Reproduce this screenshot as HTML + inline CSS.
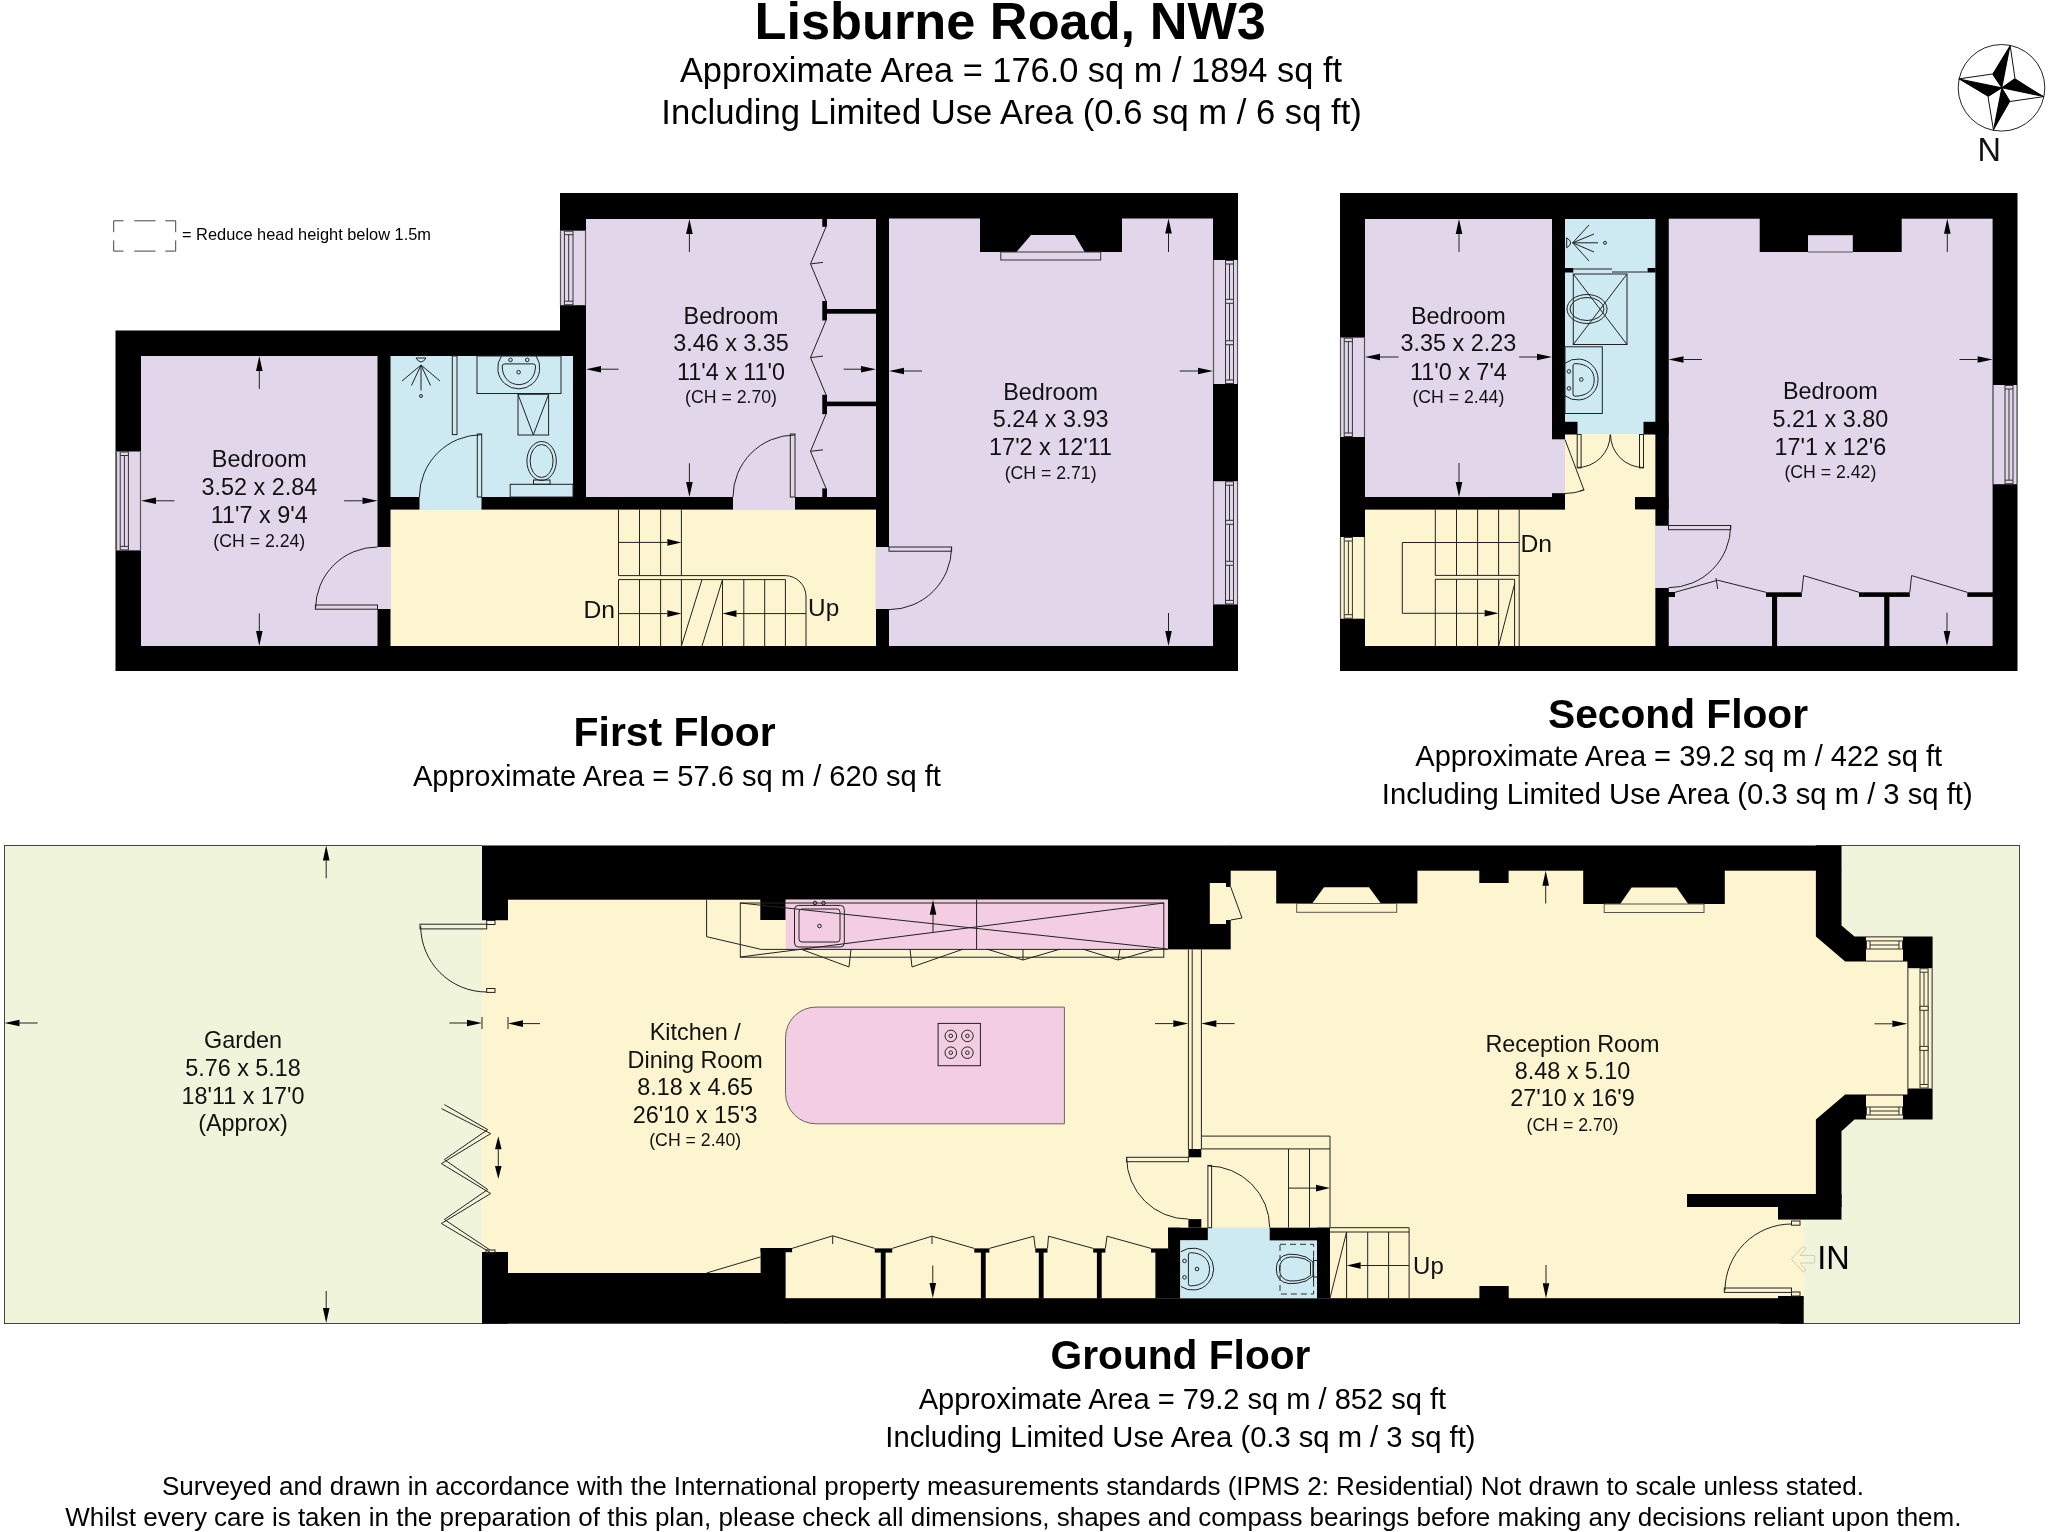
<!DOCTYPE html>
<html><head><meta charset="utf-8"><title>Lisburne Road, NW3</title><style>html,body{margin:0;padding:0;background:#fff;overflow:hidden}svg{display:block;will-change:transform}</style></head><body>
<svg width="2048" height="1532" viewBox="0 0 2048 1532" font-family="&quot;Liberation Sans&quot;, sans-serif">
<rect x="0.0" y="0.0" width="2048.0" height="1532.0" fill="#fff" />
<text x="754.5" y="39.0" font-size="52.3" text-anchor="start" font-weight="bold" fill="#000">Lisburne Road, NW3</text>
<text x="679.9" y="82.0" font-size="34.39" text-anchor="start" font-weight="normal" fill="#000">Approximate Area = 176.0 sq m / 1894 sq ft</text>
<text x="661.3" y="124.2" font-size="34.63" text-anchor="start" font-weight="normal" fill="#000">Including Limited Use Area (0.6 sq m / 6 sq ft)</text>
<circle cx="2001.5" cy="87.8" r="43.3" fill="#fff" stroke="#222" stroke-width="1"/>
<polygon points="2010.1,45.2 1992.5,74.0 2001.8,87.8" fill="#000" stroke="none" stroke-width="1"/>
<polygon points="2010.1,45.2 2015.0,78.5 2001.8,87.8" fill="#fff" stroke="#111" stroke-width="1"/>
<polygon points="2043.9,96.6 2015.0,78.5 2001.8,87.8" fill="#000" stroke="none" stroke-width="1"/>
<polygon points="2043.9,96.6 2010.0,101.5 2001.8,87.8" fill="#fff" stroke="#111" stroke-width="1"/>
<polygon points="1993.5,130.3 2010.0,101.5 2001.8,87.8" fill="#000" stroke="none" stroke-width="1"/>
<polygon points="1993.5,130.3 1988.0,96.6 2001.8,87.8" fill="#fff" stroke="#111" stroke-width="1"/>
<polygon points="1958.7,78.9 1988.0,96.6 2001.8,87.8" fill="#000" stroke="none" stroke-width="1"/>
<polygon points="1958.7,78.9 1992.5,74.0 2001.8,87.8" fill="#fff" stroke="#111" stroke-width="1"/>
<polygon points="2010.1,45.2 1992.5,74.0 2001.8,87.8" fill="#000" stroke="none" stroke-width="1"/>
<polygon points="2043.9,96.6 2015.0,78.5 2001.8,87.8" fill="#000" stroke="none" stroke-width="1"/>
<polygon points="1993.5,130.3 2010.0,101.5 2001.8,87.8" fill="#000" stroke="none" stroke-width="1"/>
<polygon points="1958.7,78.9 1988.0,96.6 2001.8,87.8" fill="#000" stroke="none" stroke-width="1"/>
<text x="1977.6" y="160.7" font-size="32.47" text-anchor="start" font-weight="normal" fill="#111">N</text>
<path d="M113.7,232.2 V220.8 H123.5 M134.3,220.8 H155.5 M165.3,220.8 H175.7 V232.2 M175.7,240.4 V251.1 H165.3 M155.5,251.1 H134.3 M123.5,251.1 H113.7 V240.4" fill="none" stroke="#444" stroke-width="1"/>
<text x="182.0" y="240.4" font-size="17" text-anchor="start" font-weight="normal" fill="#000" textLength="249" lengthAdjust="spacingAndGlyphs">= Reduce head height below 1.5m</text>
<polygon points="115.5,330.5 560.0,330.5 560.0,193.0 1238.0,193.0 1238.0,671.0 115.5,671.0" fill="#000" stroke="none" stroke-width="1"/>
<rect x="141.0" y="356.0" width="236.5" height="290.0" fill="#E2D6EA" />
<rect x="390.5" y="356.0" width="182.5" height="141.0" fill="#CDE9F2" />
<rect x="390.5" y="509.6" width="485.5" height="136.4" fill="#FDF5D0" />
<rect x="586.0" y="219.0" width="290.0" height="278.0" fill="#E2D6EA" />
<rect x="889.0" y="218.5" width="324.0" height="427.5" fill="#E2D6EA" />
<rect x="377.0" y="547.0" width="14.0" height="62.0" fill="#E2D6EA" />
<rect x="419.5" y="496.0" width="62.0" height="14.0" fill="#CDE9F2" />
<rect x="733.0" y="496.0" width="62.0" height="14.0" fill="#E2D6EA" />
<rect x="875.5" y="547.0" width="14.0" height="62.0" fill="#E2D6EA" />
<rect x="116.0" y="451.5" width="25.0" height="98.9" fill="#E2D6EA" />
<line x1="116.5" y1="451.5" x2="116.5" y2="550.4" stroke="#555" stroke-width="1.2"/>
<line x1="140.5" y1="451.5" x2="140.5" y2="550.4" stroke="#555" stroke-width="1.2"/>
<rect x="120.2" y="452.0" width="8.2" height="97.9" fill="none" stroke="#333" stroke-width="1"/>
<line x1="124.4" y1="455.5" x2="124.4" y2="546.4" stroke="#333" stroke-width="1"/>
<line x1="120.2" y1="455.5" x2="128.5" y2="455.5" stroke="#333" stroke-width="1"/>
<line x1="120.2" y1="546.4" x2="128.5" y2="546.4" stroke="#333" stroke-width="1"/>
<rect x="560.0" y="230.7" width="26.0" height="74.5" fill="#E2D6EA" />
<line x1="560.5" y1="230.7" x2="560.5" y2="305.2" stroke="#555" stroke-width="1.2"/>
<line x1="585.5" y1="230.7" x2="585.5" y2="305.2" stroke="#555" stroke-width="1.2"/>
<rect x="564.4" y="231.2" width="8.6" height="73.5" fill="none" stroke="#333" stroke-width="1"/>
<line x1="568.7" y1="234.7" x2="568.7" y2="301.2" stroke="#333" stroke-width="1"/>
<line x1="564.4" y1="234.7" x2="573.0" y2="234.7" stroke="#333" stroke-width="1"/>
<line x1="564.4" y1="301.2" x2="573.0" y2="301.2" stroke="#333" stroke-width="1"/>
<rect x="1213.0" y="260.0" width="25.0" height="124.0" fill="#E2D6EA" />
<line x1="1213.5" y1="260.0" x2="1213.5" y2="384.0" stroke="#555" stroke-width="1.2"/>
<line x1="1237.5" y1="260.0" x2="1237.5" y2="384.0" stroke="#555" stroke-width="1.2"/>
<rect x="1225.5" y="260.5" width="8.0" height="123.0" fill="none" stroke="#333" stroke-width="1"/>
<line x1="1229.5" y1="264.0" x2="1229.5" y2="380.0" stroke="#333" stroke-width="1"/>
<line x1="1225.5" y1="264.0" x2="1233.5" y2="264.0" stroke="#333" stroke-width="1"/>
<line x1="1225.5" y1="380.0" x2="1233.5" y2="380.0" stroke="#333" stroke-width="1"/>
<rect x="1225.5" y="299.3" width="8.0" height="4.0" fill="#E2D6EA" stroke="#333" stroke-width="1"/>
<rect x="1225.5" y="340.7" width="8.0" height="4.0" fill="#E2D6EA" stroke="#333" stroke-width="1"/>
<rect x="1213.0" y="481.2" width="25.0" height="123.2" fill="#E2D6EA" />
<line x1="1213.5" y1="481.2" x2="1213.5" y2="604.4" stroke="#555" stroke-width="1.2"/>
<line x1="1237.5" y1="481.2" x2="1237.5" y2="604.4" stroke="#555" stroke-width="1.2"/>
<rect x="1225.5" y="481.7" width="8.0" height="122.2" fill="none" stroke="#333" stroke-width="1"/>
<line x1="1229.5" y1="485.2" x2="1229.5" y2="600.4" stroke="#333" stroke-width="1"/>
<line x1="1225.5" y1="485.2" x2="1233.5" y2="485.2" stroke="#333" stroke-width="1"/>
<line x1="1225.5" y1="600.4" x2="1233.5" y2="600.4" stroke="#333" stroke-width="1"/>
<rect x="1225.5" y="520.3" width="8.0" height="4.0" fill="#E2D6EA" stroke="#333" stroke-width="1"/>
<rect x="1225.5" y="561.3" width="8.0" height="4.0" fill="#E2D6EA" stroke="#333" stroke-width="1"/>
<rect x="980.0" y="218.0" width="142.0" height="34.0" fill="#000" />
<polygon points="1031.0,235.0 1074.7,235.0 1085.0,252.5 1016.0,252.5" fill="#E2D6EA" stroke="none" stroke-width="1"/>
<rect x="1000.8" y="252.0" width="99.9" height="8.0" fill="none" stroke="#333" stroke-width="1.0"/>
<rect x="822.3" y="218.8" width="4.7" height="8.0" fill="#000" />
<rect x="822.3" y="301.0" width="4.7" height="19.5" fill="#000" />
<rect x="822.3" y="394.8" width="4.7" height="19.4" fill="#000" />
<rect x="822.3" y="488.4" width="4.7" height="8.6" fill="#000" />
<rect x="827.0" y="309.0" width="49.0" height="4.7" fill="#000" />
<rect x="827.0" y="401.6" width="49.0" height="4.6" fill="#000" />
<polyline points="826.0,226.8 810.5,263.9 823.0,262.4" fill="none" stroke="#222" stroke-width="1.0"/>
<polyline points="810.5,263.9 826.0,301.0" fill="none" stroke="#222" stroke-width="1.0"/>
<polyline points="826.0,320.5 810.5,357.6 823.0,356.1" fill="none" stroke="#222" stroke-width="1.0"/>
<polyline points="810.5,357.6 826.0,394.8" fill="none" stroke="#222" stroke-width="1.0"/>
<polyline points="826.0,414.2 810.5,451.3 823.0,449.8" fill="none" stroke="#222" stroke-width="1.0"/>
<polyline points="810.5,451.3 826.0,488.4" fill="none" stroke="#222" stroke-width="1.0"/>
<rect x="452.3" y="356.0" width="4.7" height="78.6" fill="none" stroke="#222" stroke-width="1.0"/>
<rect x="477.3" y="434.0" width="4.4" height="63.0" fill="#CDE9F2" />
<rect x="477.3" y="434.0" width="4.4" height="63.0" fill="none" stroke="#222" stroke-width="1.0"/>
<path d="M419.4,497.0 A62.3,62.3 0 0 1 481.7,434.7" fill="none" stroke="#222" stroke-width="1.0"/>
<rect x="477.0" y="356.0" width="84.0" height="37.5" fill="none" stroke="#222" stroke-width="1.0"/>
<path d="M501.45,356 A21,21 0 1 0 536.05,356" fill="none" stroke="#222" stroke-width="1"/>
<path d="M502.2,366 C502.2,378 510,384.6 518.8,384.6 C527.6,384.6 535.5,378 535.5,366 Q535.5,363.9 533,363.9 L505,363.9 Q502.2,363.9 502.2,366 Z" fill="none" stroke="#222" stroke-width="1"/>
<circle cx="510.5" cy="359.9" r="1.8" fill="none" stroke="#222" stroke-width="1"/>
<circle cx="527.2" cy="359.9" r="1.8" fill="none" stroke="#222" stroke-width="1"/>
<circle cx="518.6" cy="372.2" r="1.8" fill="none" stroke="#222" stroke-width="1"/>
<rect x="518.0" y="394.3" width="30.6" height="40.7" fill="none" stroke="#222" stroke-width="1.0"/>
<polyline points="518.0,394.3 533.3,435.0 548.6,394.3" fill="none" stroke="#222" stroke-width="1.0"/>
<ellipse cx="541.6" cy="461" rx="14.7" ry="19.5" fill="none" stroke="#222" stroke-width="1"/>
<ellipse cx="541.6" cy="461" rx="11.5" ry="16.5" fill="none" stroke="#222" stroke-width="1"/>
<rect x="533.5" y="480.0" width="16.5" height="4.3" fill="none" stroke="#222" stroke-width="1"/>
<rect x="510.2" y="484.3" width="62.8" height="12.7" fill="none" stroke="#222" stroke-width="1.0"/>
<path d="M416,358 Q421,366 426,358 Z" fill="none" stroke="#222" stroke-width="1"/>
<line x1="421.0" y1="365.0" x2="402.0" y2="381.0" stroke="#222" stroke-width="1"/>
<line x1="421.0" y1="365.0" x2="411.5" y2="385.5" stroke="#222" stroke-width="1"/>
<line x1="421.0" y1="365.0" x2="421.0" y2="390.5" stroke="#222" stroke-width="1"/>
<line x1="421.0" y1="365.0" x2="430.5" y2="385.5" stroke="#222" stroke-width="1"/>
<line x1="421.0" y1="365.0" x2="440.0" y2="381.0" stroke="#222" stroke-width="1"/>
<circle cx="421" cy="396" r="1.5" fill="none" stroke="#222" stroke-width="1"/>
<rect x="315.4" y="605.0" width="62.1" height="4.2" fill="none" stroke="#222" stroke-width="1.0"/>
<path d="M315.5,609.0 A62.0,62.0 0 0 1 377.5,547.0" fill="none" stroke="#222" stroke-width="1.0"/>
<rect x="790.3" y="434.0" width="4.7" height="63.0" fill="none" stroke="#222" stroke-width="1.0"/>
<path d="M733.0,497.0 A62.0,62.0 0 0 1 795.0,435.0" fill="none" stroke="#222" stroke-width="1.0"/>
<rect x="889.0" y="547.0" width="62.6" height="4.2" fill="none" stroke="#222" stroke-width="1.0"/>
<path d="M951.6,547.0 A62.6,62.6 0 0 1 889.0,609.6" fill="none" stroke="#222" stroke-width="1.0"/>
<line x1="618.5" y1="509.6" x2="618.5" y2="575.6" stroke="#222" stroke-width="1.0"/>
<line x1="639.5" y1="509.6" x2="639.5" y2="575.6" stroke="#222" stroke-width="1.0"/>
<line x1="660.6" y1="509.6" x2="660.6" y2="575.6" stroke="#222" stroke-width="1.0"/>
<line x1="681.4" y1="509.6" x2="681.4" y2="575.6" stroke="#222" stroke-width="1.0"/>
<path d="M618.5,575.6 L785.4,575.6 A21,21 0 0 1 806,597 L806,646" fill="none" stroke="#222" stroke-width="1.0"/>
<line x1="618.5" y1="579.6" x2="785.4" y2="579.6" stroke="#222" stroke-width="1.0"/>
<line x1="618.5" y1="579.6" x2="618.5" y2="646.0" stroke="#222" stroke-width="1.0"/>
<line x1="639.5" y1="579.6" x2="639.5" y2="646.0" stroke="#222" stroke-width="1.0"/>
<line x1="660.6" y1="579.6" x2="660.6" y2="646.0" stroke="#222" stroke-width="1.0"/>
<line x1="681.4" y1="579.6" x2="681.4" y2="646.0" stroke="#222" stroke-width="1.0"/>
<line x1="722.5" y1="579.6" x2="722.5" y2="646.0" stroke="#222" stroke-width="1.0"/>
<line x1="743.8" y1="579.6" x2="743.8" y2="646.0" stroke="#222" stroke-width="1.0"/>
<line x1="764.7" y1="579.6" x2="764.7" y2="646.0" stroke="#222" stroke-width="1.0"/>
<line x1="785.4" y1="579.6" x2="785.4" y2="646.0" stroke="#222" stroke-width="1.0"/>
<line x1="681.4" y1="646.0" x2="702.0" y2="579.6" stroke="#222" stroke-width="1.0"/>
<line x1="702.0" y1="646.0" x2="722.5" y2="579.6" stroke="#222" stroke-width="1.0"/>
<line x1="618.5" y1="542.4" x2="667.4" y2="542.4" stroke="#222" stroke-width="1.0"/>
<polygon points="681.4,542.4 667.4,545.7 667.4,539.1" fill="#000" stroke="none" stroke-width="1"/>
<line x1="618.5" y1="613.6" x2="667.4" y2="613.6" stroke="#222" stroke-width="1.0"/>
<polygon points="681.4,613.6 667.4,616.9 667.4,610.3" fill="#000" stroke="none" stroke-width="1"/>
<line x1="806.0" y1="613.6" x2="736.5" y2="613.6" stroke="#222" stroke-width="1.0"/>
<polygon points="722.5,613.6 736.5,610.3 736.5,616.9" fill="#000" stroke="none" stroke-width="1"/>
<text x="583.5" y="617.7" font-size="24.72" text-anchor="start" font-weight="normal" fill="#111">Dn</text>
<text x="808.1" y="616.2" font-size="24.31" text-anchor="start" font-weight="normal" fill="#111">Up</text>
<line x1="259.3" y1="388.9" x2="259.3" y2="371.0" stroke="#222" stroke-width="1.0"/>
<polygon points="259.3,356.0 262.6,371.0 256.0,371.0" fill="#000" stroke="none" stroke-width="1"/>
<line x1="259.3" y1="613.4" x2="259.3" y2="631.0" stroke="#222" stroke-width="1.0"/>
<polygon points="259.3,646.0 256.0,631.0 262.6,631.0" fill="#000" stroke="none" stroke-width="1"/>
<line x1="174.4" y1="500.8" x2="156.0" y2="500.8" stroke="#222" stroke-width="1.0"/>
<polygon points="141.0,500.8 156.0,497.5 156.0,504.1" fill="#000" stroke="none" stroke-width="1"/>
<line x1="344.1" y1="500.8" x2="362.5" y2="500.8" stroke="#222" stroke-width="1.0"/>
<polygon points="377.5,500.8 362.5,504.1 362.5,497.5" fill="#000" stroke="none" stroke-width="1"/>
<line x1="689.4" y1="252.0" x2="689.4" y2="234.0" stroke="#222" stroke-width="1.0"/>
<polygon points="689.4,219.0 692.7,234.0 686.1,234.0" fill="#000" stroke="none" stroke-width="1"/>
<line x1="689.4" y1="463.3" x2="689.4" y2="482.0" stroke="#222" stroke-width="1.0"/>
<polygon points="689.4,497.0 686.1,482.0 692.7,482.0" fill="#000" stroke="none" stroke-width="1"/>
<line x1="618.5" y1="369.2" x2="601.0" y2="369.2" stroke="#222" stroke-width="1.0"/>
<polygon points="586.0,369.2 601.0,365.9 601.0,372.5" fill="#000" stroke="none" stroke-width="1"/>
<line x1="843.6" y1="369.2" x2="861.0" y2="369.2" stroke="#222" stroke-width="1.0"/>
<polygon points="876.0,369.2 861.0,372.5 861.0,365.9" fill="#000" stroke="none" stroke-width="1"/>
<line x1="1168.5" y1="252.0" x2="1168.5" y2="233.5" stroke="#222" stroke-width="1.0"/>
<polygon points="1168.5,218.5 1171.8,233.5 1165.2,233.5" fill="#000" stroke="none" stroke-width="1"/>
<line x1="1168.5" y1="613.0" x2="1168.5" y2="631.0" stroke="#222" stroke-width="1.0"/>
<polygon points="1168.5,646.0 1165.2,631.0 1171.8,631.0" fill="#000" stroke="none" stroke-width="1"/>
<line x1="922.0" y1="371.0" x2="904.0" y2="371.0" stroke="#222" stroke-width="1.0"/>
<polygon points="889.0,371.0 904.0,367.7 904.0,374.3" fill="#000" stroke="none" stroke-width="1"/>
<line x1="1179.7" y1="371.0" x2="1198.0" y2="371.0" stroke="#222" stroke-width="1.0"/>
<polygon points="1213.0,371.0 1198.0,374.3 1198.0,367.7" fill="#000" stroke="none" stroke-width="1"/>
<text x="259.3" y="467.2" font-size="23.4" text-anchor="middle" font-weight="normal" fill="#111">Bedroom</text>
<text x="259.3" y="495.0" font-size="23.4" text-anchor="middle" font-weight="normal" fill="#111">3.52 x 2.84</text>
<text x="259.3" y="522.7" font-size="23.4" text-anchor="middle" font-weight="normal" fill="#111">11'7 x 9'4</text>
<text x="259.3" y="547.2" font-size="17.7" text-anchor="middle" font-weight="normal" fill="#111">(CH = 2.24)</text>
<text x="731.0" y="324.4" font-size="23.4" text-anchor="middle" font-weight="normal" fill="#111">Bedroom</text>
<text x="731.0" y="351.3" font-size="23.4" text-anchor="middle" font-weight="normal" fill="#111">3.46 x 3.35</text>
<text x="731.0" y="380.0" font-size="23.4" text-anchor="middle" font-weight="normal" fill="#111">11'4 x 11'0</text>
<text x="731.0" y="402.8" font-size="17.7" text-anchor="middle" font-weight="normal" fill="#111">(CH = 2.70)</text>
<text x="1050.6" y="399.6" font-size="23.4" text-anchor="middle" font-weight="normal" fill="#111">Bedroom</text>
<text x="1050.6" y="426.9" font-size="23.4" text-anchor="middle" font-weight="normal" fill="#111">5.24 x 3.93</text>
<text x="1050.6" y="455.0" font-size="23.4" text-anchor="middle" font-weight="normal" fill="#111">17'2 x 12'11</text>
<text x="1050.6" y="479.0" font-size="17.7" text-anchor="middle" font-weight="normal" fill="#111">(CH = 2.71)</text>
<text x="573.6" y="746.0" font-size="40.88" text-anchor="start" font-weight="bold" fill="#000">First Floor</text>
<text x="412.9" y="785.6" font-size="29.1" text-anchor="start" font-weight="normal" fill="#000">Approximate Area = 57.6 sq m / 620 sq ft</text>
<rect x="1340.0" y="193.0" width="677.5" height="478.0" fill="#000" />
<rect x="1365.0" y="219.0" width="200.0" height="278.0" fill="#E2D6EA" />
<rect x="1565.0" y="219.0" width="90.6" height="215.0" fill="#CDE9F2" />
<rect x="1365.0" y="509.4" width="290.6" height="136.6" fill="#FDF5D0" />
<rect x="1565.0" y="434.0" width="90.6" height="76.0" fill="#FDF5D0" />
<rect x="1668.5" y="218.7" width="324.1" height="427.3" fill="#E2D6EA" />
<rect x="1655.0" y="525.5" width="14.0" height="62.5" fill="#E2D6EA" />
<rect x="1552.0" y="218.0" width="13.0" height="221.3" fill="#000" />
<rect x="1552.0" y="421.8" width="25.5" height="12.7" fill="#000" />
<rect x="1643.5" y="421.8" width="25.0" height="12.7" fill="#000" />
<rect x="1655.6" y="218.0" width="12.9" height="307.5" fill="#000" />
<rect x="1655.6" y="588.0" width="12.9" height="58.5" fill="#000" />
<rect x="1364.0" y="497.0" width="201.0" height="12.4" fill="#000" />
<rect x="1552.0" y="493.2" width="13.0" height="3.8" fill="#000" />
<rect x="1635.0" y="497.0" width="33.5" height="12.4" fill="#000" />
<rect x="1668.0" y="592.0" width="7.0" height="5.0" fill="#000" />
<rect x="1565.0" y="268.0" width="8.3" height="4.5" fill="#000" />
<rect x="1647.6" y="268.0" width="8.0" height="4.5" fill="#000" />
<line x1="1573.3" y1="269.0" x2="1612.0" y2="269.0" stroke="#222" stroke-width="1"/>
<line x1="1612.0" y1="272.0" x2="1647.6" y2="272.0" stroke="#222" stroke-width="1"/>
<rect x="1340.0" y="337.6" width="25.0" height="99.4" fill="#E2D6EA" />
<line x1="1340.5" y1="337.6" x2="1340.5" y2="437.0" stroke="#555" stroke-width="1.2"/>
<line x1="1364.5" y1="337.6" x2="1364.5" y2="437.0" stroke="#555" stroke-width="1.2"/>
<rect x="1344.2" y="338.1" width="8.2" height="98.4" fill="none" stroke="#333" stroke-width="1"/>
<line x1="1348.4" y1="341.6" x2="1348.4" y2="433.0" stroke="#333" stroke-width="1"/>
<line x1="1344.2" y1="341.6" x2="1352.5" y2="341.6" stroke="#333" stroke-width="1"/>
<line x1="1344.2" y1="433.0" x2="1352.5" y2="433.0" stroke="#333" stroke-width="1"/>
<rect x="1340.0" y="537.0" width="25.0" height="81.7" fill="#FDF5D0" />
<line x1="1340.5" y1="537.0" x2="1340.5" y2="618.7" stroke="#555" stroke-width="1.2"/>
<line x1="1364.5" y1="537.0" x2="1364.5" y2="618.7" stroke="#555" stroke-width="1.2"/>
<rect x="1344.2" y="537.5" width="8.2" height="80.7" fill="none" stroke="#333" stroke-width="1"/>
<line x1="1348.4" y1="541.0" x2="1348.4" y2="614.7" stroke="#333" stroke-width="1"/>
<line x1="1344.2" y1="541.0" x2="1352.5" y2="541.0" stroke="#333" stroke-width="1"/>
<line x1="1344.2" y1="614.7" x2="1352.5" y2="614.7" stroke="#333" stroke-width="1"/>
<rect x="1992.6" y="385.0" width="24.9" height="99.2" fill="#E2D6EA" />
<line x1="1993.1" y1="385.0" x2="1993.1" y2="484.2" stroke="#555" stroke-width="1.2"/>
<line x1="2017.0" y1="385.0" x2="2017.0" y2="484.2" stroke="#555" stroke-width="1.2"/>
<rect x="2005.0" y="385.5" width="8.0" height="98.2" fill="none" stroke="#333" stroke-width="1"/>
<line x1="2009.0" y1="389.0" x2="2009.0" y2="480.2" stroke="#333" stroke-width="1"/>
<line x1="2005.0" y1="389.0" x2="2013.0" y2="389.0" stroke="#333" stroke-width="1"/>
<line x1="2005.0" y1="480.2" x2="2013.0" y2="480.2" stroke="#333" stroke-width="1"/>
<rect x="1759.7" y="218.0" width="142.0" height="34.0" fill="#000" />
<rect x="1808.0" y="235.2" width="44.8" height="17.3" fill="#E2D6EA" />
<line x1="1808.0" y1="252.0" x2="1852.8" y2="252.0" stroke="#555" stroke-width="1"/>
<rect x="1668.0" y="592.3" width="7.0" height="4.6" fill="#000" />
<rect x="1766.0" y="592.3" width="35.8" height="4.6" fill="#000" />
<rect x="1859.0" y="592.3" width="50.8" height="4.6" fill="#000" />
<rect x="1967.3" y="592.3" width="25.7" height="4.6" fill="#000" />
<rect x="1772.0" y="596.0" width="5.1" height="50.5" fill="#000" />
<rect x="1884.2" y="596.0" width="5.2" height="50.5" fill="#000" />
<polyline points="1675.0,592.3 1717.7,580.2 1766.0,592.3" fill="none" stroke="#222" stroke-width="1.0"/>
<polyline points="1716.0,578.0 1717.7,589.0" fill="none" stroke="#222" stroke-width="1.0"/>
<polyline points="1801.8,592.3 1803.6,575.6 1859.0,592.3" fill="none" stroke="#222" stroke-width="1.0"/>
<polyline points="1909.8,592.3 1911.6,575.6 1967.3,592.3" fill="none" stroke="#222" stroke-width="1.0"/>
<path d="M1566.7,237.8 Q1574.7,242.8 1566.7,247.8 Z" fill="none" stroke="#222" stroke-width="1"/>
<line x1="1572.7" y1="242.8" x2="1589.0" y2="225.0" stroke="#222" stroke-width="1"/>
<line x1="1572.7" y1="242.8" x2="1594.0" y2="234.0" stroke="#222" stroke-width="1"/>
<line x1="1572.7" y1="242.8" x2="1598.0" y2="242.8" stroke="#222" stroke-width="1"/>
<line x1="1572.7" y1="242.8" x2="1594.0" y2="252.0" stroke="#222" stroke-width="1"/>
<line x1="1572.7" y1="242.8" x2="1589.0" y2="261.0" stroke="#222" stroke-width="1"/>
<circle cx="1605" cy="242.8" r="1.5" fill="none" stroke="#222" stroke-width="1"/>
<rect x="1573.3" y="274.0" width="53.7" height="70.5" fill="none" stroke="#222" stroke-width="1.0"/>
<line x1="1573.3" y1="274.0" x2="1627.0" y2="344.5" stroke="#222" stroke-width="1"/>
<line x1="1627.0" y1="274.0" x2="1573.3" y2="344.5" stroke="#222" stroke-width="1"/>
<ellipse cx="1587" cy="309" rx="20" ry="14.5" fill="none" stroke="#222" stroke-width="1"/>
<ellipse cx="1587" cy="309" rx="17" ry="11.5" fill="none" stroke="#222" stroke-width="1"/>
<rect x="1565.0" y="346.8" width="37.3" height="66.7" fill="none" stroke="#222" stroke-width="1.0"/>
<path d="M1565,363.3 A20.5,20.5 0 1 1 1565,395.7" fill="none" stroke="#222" stroke-width="1"/>
<path d="M1575,363.6 C1587,363.6 1594.2,370 1594.2,379.9 C1594.2,389.8 1587,396.2 1575,396.2 Q1573,396.2 1573,394 L1573,366 Q1573,363.6 1575,363.6 Z" fill="none" stroke="#222" stroke-width="1"/>
<circle cx="1568.9" cy="371.4" r="1.8" fill="none" stroke="#222" stroke-width="1"/>
<circle cx="1568.9" cy="388.4" r="1.8" fill="none" stroke="#222" stroke-width="1"/>
<circle cx="1581.3" cy="379.5" r="1.8" fill="none" stroke="#222" stroke-width="1"/>
<rect x="1577.2" y="434.5" width="3.9" height="33.4" fill="none" stroke="#222" stroke-width="1"/>
<path d="M1577.2,467.5 A33.0,33.0 0 0 0 1610.2,434.5" fill="none" stroke="#222" stroke-width="1.0"/>
<rect x="1639.5" y="434.5" width="4.0" height="33.4" fill="none" stroke="#222" stroke-width="1"/>
<path d="M1643.5,467.5 A33.0,33.0 0 0 1 1610.5,434.5" fill="none" stroke="#222" stroke-width="1.0"/>
<polyline points="1565.0,439.5 1583.8,489.6 1580.0,491.0" fill="none" stroke="#222" stroke-width="1.0"/>
<path d="M1584.4,489.9 A54.0,54.0 0 0 1 1565.0,493.5" fill="none" stroke="#222" stroke-width="1.0"/>
<rect x="1668.5" y="525.5" width="62.2" height="4.2" fill="none" stroke="#222" stroke-width="1.0"/>
<path d="M1730.7,525.5 A62.2,62.2 0 0 1 1668.5,587.7" fill="none" stroke="#222" stroke-width="1.0"/>
<line x1="1435.3" y1="509.4" x2="1435.3" y2="575.4" stroke="#222" stroke-width="1.0"/>
<line x1="1456.5" y1="509.4" x2="1456.5" y2="575.4" stroke="#222" stroke-width="1.0"/>
<line x1="1477.6" y1="509.4" x2="1477.6" y2="575.4" stroke="#222" stroke-width="1.0"/>
<line x1="1498.6" y1="509.4" x2="1498.6" y2="575.4" stroke="#222" stroke-width="1.0"/>
<line x1="1519.2" y1="509.4" x2="1519.2" y2="575.4" stroke="#222" stroke-width="1.0"/>
<line x1="1435.3" y1="575.4" x2="1519.2" y2="575.4" stroke="#222" stroke-width="1.0"/>
<line x1="1435.3" y1="579.3" x2="1514.6" y2="579.3" stroke="#222" stroke-width="1.0"/>
<line x1="1435.3" y1="579.3" x2="1435.3" y2="646.0" stroke="#222" stroke-width="1.0"/>
<line x1="1456.5" y1="579.3" x2="1456.5" y2="646.0" stroke="#222" stroke-width="1.0"/>
<line x1="1477.6" y1="579.3" x2="1477.6" y2="646.0" stroke="#222" stroke-width="1.0"/>
<line x1="1498.6" y1="579.3" x2="1498.6" y2="646.0" stroke="#222" stroke-width="1.0"/>
<line x1="1514.6" y1="579.3" x2="1514.6" y2="646.0" stroke="#222" stroke-width="1.0"/>
<line x1="1519.2" y1="575.4" x2="1519.2" y2="646.0" stroke="#222" stroke-width="1.0"/>
<line x1="1498.6" y1="646.0" x2="1514.6" y2="584.0" stroke="#222" stroke-width="1.0"/>
<polyline points="1519.2,542.5 1402.3,542.5 1402.3,613.3 1440.0,613.3" fill="none" stroke="#222" stroke-width="1.0"/>
<line x1="1440.0" y1="613.3" x2="1484.6" y2="613.3" stroke="#222" stroke-width="1.0"/>
<polygon points="1498.6,613.3 1484.6,616.6 1484.6,610.0" fill="#000" stroke="none" stroke-width="1"/>
<text x="1520.4" y="551.5" font-size="24.72" text-anchor="start" font-weight="normal" fill="#111">Dn</text>
<line x1="1459.0" y1="252.0" x2="1459.0" y2="234.0" stroke="#222" stroke-width="1.0"/>
<polygon points="1459.0,219.0 1462.3,234.0 1455.7,234.0" fill="#000" stroke="none" stroke-width="1"/>
<line x1="1459.0" y1="463.0" x2="1459.0" y2="482.0" stroke="#222" stroke-width="1.0"/>
<polygon points="1459.0,497.0 1455.7,482.0 1462.3,482.0" fill="#000" stroke="none" stroke-width="1"/>
<line x1="1398.5" y1="357.0" x2="1380.0" y2="357.0" stroke="#222" stroke-width="1.0"/>
<polygon points="1365.0,357.0 1380.0,353.7 1380.0,360.3" fill="#000" stroke="none" stroke-width="1"/>
<line x1="1519.2" y1="357.0" x2="1537.0" y2="357.0" stroke="#222" stroke-width="1.0"/>
<polygon points="1552.0,357.0 1537.0,360.3 1537.0,353.7" fill="#000" stroke="none" stroke-width="1"/>
<line x1="1947.3" y1="252.0" x2="1947.3" y2="233.7" stroke="#222" stroke-width="1.0"/>
<polygon points="1947.3,218.7 1950.6,233.7 1944.0,233.7" fill="#000" stroke="none" stroke-width="1"/>
<line x1="1947.0" y1="612.7" x2="1947.0" y2="631.0" stroke="#222" stroke-width="1.0"/>
<polygon points="1947.0,646.0 1943.7,631.0 1950.3,631.0" fill="#000" stroke="none" stroke-width="1"/>
<line x1="1701.9" y1="359.5" x2="1683.5" y2="359.5" stroke="#222" stroke-width="1.0"/>
<polygon points="1668.5,359.5 1683.5,356.2 1683.5,362.8" fill="#000" stroke="none" stroke-width="1"/>
<line x1="1959.5" y1="359.5" x2="1977.6" y2="359.5" stroke="#222" stroke-width="1.0"/>
<polygon points="1992.6,359.5 1977.6,362.8 1977.6,356.2" fill="#000" stroke="none" stroke-width="1"/>
<text x="1458.4" y="324.4" font-size="23.4" text-anchor="middle" font-weight="normal" fill="#111">Bedroom</text>
<text x="1458.4" y="351.3" font-size="23.4" text-anchor="middle" font-weight="normal" fill="#111">3.35 x 2.23</text>
<text x="1458.4" y="380.0" font-size="23.4" text-anchor="middle" font-weight="normal" fill="#111">11'0 x 7'4</text>
<text x="1458.4" y="402.8" font-size="17.7" text-anchor="middle" font-weight="normal" fill="#111">(CH = 2.44)</text>
<text x="1830.4" y="399.4" font-size="23.4" text-anchor="middle" font-weight="normal" fill="#111">Bedroom</text>
<text x="1830.4" y="427.0" font-size="23.4" text-anchor="middle" font-weight="normal" fill="#111">5.21 x 3.80</text>
<text x="1830.4" y="455.0" font-size="23.4" text-anchor="middle" font-weight="normal" fill="#111">17'1 x 12'6</text>
<text x="1830.4" y="477.9" font-size="17.7" text-anchor="middle" font-weight="normal" fill="#111">(CH = 2.42)</text>
<text x="1548.0" y="727.5" font-size="40.71" text-anchor="start" font-weight="bold" fill="#000">Second Floor</text>
<text x="1415.3" y="766.3" font-size="29.04" text-anchor="start" font-weight="normal" fill="#000">Approximate Area = 39.2 sq m / 422 sq ft</text>
<text x="1381.8" y="804.1" font-size="29.21" text-anchor="start" font-weight="normal" fill="#000">Including Limited Use Area (0.3 sq m / 3 sq ft)</text>
<rect x="4.5" y="845.5" width="478" height="478" fill="#F0F4DA" stroke="#444" stroke-width="1"/>
<rect x="1780" y="845.5" width="239.5" height="478" fill="#F0F4DA" stroke="#444" stroke-width="1"/>
<rect x="482.0" y="845.0" width="1322.0" height="478.0" fill="#FDF5D0" />
<rect x="1803.0" y="845.0" width="13.0" height="375.0" fill="#FDF5D0" />
<rect x="1815.0" y="870.0" width="27.0" height="350.0" fill="#FDF5D0" />
<rect x="1778.0" y="1219.0" width="26.0" height="80.0" fill="#FDF5D0" />
<polygon points="1841.5,925.0 1854.5,936.4 1932.6,936.4 1932.6,1120.0 1854.5,1120.0 1841.5,1131.0" fill="#FDF5D0" stroke="none" stroke-width="1"/>
<rect x="482.0" y="845.5" width="748.7" height="54.2" fill="#000" />
<rect x="1230.0" y="845.5" width="611.5" height="25.2" fill="#000" />
<rect x="482.0" y="899.0" width="26.0" height="21.5" fill="#000" />
<rect x="760.3" y="899.0" width="25.4" height="21.0" fill="#000" />
<rect x="1167.8" y="899.0" width="62.9" height="50.4" fill="#000" />
<rect x="1209.8" y="883.0" width="21.2" height="41.0" fill="#FDF5D0" />
<rect x="1226.0" y="883.0" width="4.7" height="3.9" fill="#000" />
<rect x="1226.0" y="920.0" width="4.7" height="4.0" fill="#000" />
<polyline points="1230.7,886.9 1242.0,918.0 1230.7,920.0" fill="none" stroke="#222" stroke-width="1.0"/>
<polygon points="1815.9,870.0 1841.5,870.0 1841.5,925.4 1854.5,936.4 1932.6,936.4 1932.6,1119.5 1854.5,1119.5 1841.5,1131.2 1841.5,1207.0 1815.9,1207.0 1815.9,1119.5 1845.2,1094.6 1907.4,1094.6 1907.4,961.6 1845.2,961.6 1815.9,936.4" fill="#000" stroke="none" stroke-width="1"/>
<rect x="1866.0" y="936.4" width="37.0" height="25.2" fill="#FDF5D0" />
<line x1="1866.0" y1="936.9" x2="1903.0" y2="936.9" stroke="#555" stroke-width="1.2"/>
<line x1="1866.0" y1="961.1" x2="1903.0" y2="961.1" stroke="#555" stroke-width="1.2"/>
<rect x="1866.5" y="940.9" width="36.0" height="8.1" fill="none" stroke="#333" stroke-width="1"/>
<line x1="1870.0" y1="945.0" x2="1899.0" y2="945.0" stroke="#333" stroke-width="1"/>
<line x1="1870.0" y1="940.9" x2="1870.0" y2="949.0" stroke="#333" stroke-width="1"/>
<line x1="1899.0" y1="940.9" x2="1899.0" y2="949.0" stroke="#333" stroke-width="1"/>
<rect x="1866.0" y="1094.6" width="37.0" height="24.9" fill="#FDF5D0" />
<line x1="1866.0" y1="1095.1" x2="1903.0" y2="1095.1" stroke="#555" stroke-width="1.2"/>
<line x1="1866.0" y1="1119.0" x2="1903.0" y2="1119.0" stroke="#555" stroke-width="1.2"/>
<rect x="1866.5" y="1107.0" width="36.0" height="8.0" fill="none" stroke="#333" stroke-width="1"/>
<line x1="1870.0" y1="1111.0" x2="1899.0" y2="1111.0" stroke="#333" stroke-width="1"/>
<line x1="1870.0" y1="1107.0" x2="1870.0" y2="1115.0" stroke="#333" stroke-width="1"/>
<line x1="1899.0" y1="1107.0" x2="1899.0" y2="1115.0" stroke="#333" stroke-width="1"/>
<rect x="1907.4" y="968.2" width="25.2" height="120.3" fill="#FDF5D0" />
<line x1="1907.9" y1="968.2" x2="1907.9" y2="1088.5" stroke="#555" stroke-width="1.2"/>
<line x1="1932.1" y1="968.2" x2="1932.1" y2="1088.5" stroke="#555" stroke-width="1.2"/>
<rect x="1920.0" y="968.7" width="8.1" height="119.3" fill="none" stroke="#333" stroke-width="1"/>
<line x1="1924.0" y1="972.2" x2="1924.0" y2="1084.5" stroke="#333" stroke-width="1"/>
<line x1="1920.0" y1="972.2" x2="1928.1" y2="972.2" stroke="#333" stroke-width="1"/>
<line x1="1920.0" y1="1084.5" x2="1928.1" y2="1084.5" stroke="#333" stroke-width="1"/>
<rect x="1920.0" y="1006.3" width="8.1" height="4.0" fill="#FDF5D0" stroke="#333" stroke-width="1"/>
<rect x="1920.0" y="1046.4" width="8.1" height="4.0" fill="#FDF5D0" stroke="#333" stroke-width="1"/>
<rect x="1687.0" y="1194.0" width="154.5" height="13.0" fill="#000" />
<rect x="1778.0" y="1206.0" width="63.5" height="13.6" fill="#000" />
<rect x="482.0" y="1252.0" width="26.0" height="71.7" fill="#000" />
<rect x="482.0" y="1273.0" width="303.6" height="50.7" fill="#000" />
<rect x="760.6" y="1248.0" width="25.0" height="25.0" fill="#000" />
<rect x="760.6" y="1248.0" width="31.5" height="4.2" fill="#000" />
<rect x="785.0" y="1298.2" width="1018.7" height="25.5" fill="#000" />
<rect x="1778.0" y="1296.0" width="25.7" height="3.0" fill="#000" />
<rect x="1479.4" y="1286.0" width="29.3" height="13.0" fill="#000" />
<rect x="1479.3" y="870.0" width="29.3" height="13.0" fill="#000" />
<rect x="482.0" y="920.5" width="26.0" height="331.5" fill="#FDF5D0" />
<rect x="1276.2" y="870.0" width="141.2" height="33.5" fill="#000" />
<polygon points="1324.0,887.3 1369.0,887.3 1381.1,903.8 1312.0,903.8" fill="#FDF5D0" stroke="none" stroke-width="1"/>
<rect x="1296.7" y="903.5" width="100.0" height="8.8" fill="none" stroke="#555" stroke-width="1.0"/>
<rect x="1583.2" y="870.0" width="141.6" height="34.0" fill="#000" />
<polygon points="1631.6,887.6 1676.7,887.6 1688.4,904.3 1620.0,904.3" fill="#FDF5D0" stroke="none" stroke-width="1"/>
<rect x="1604.2" y="904.0" width="99.8" height="8.5" fill="none" stroke="#555" stroke-width="1.0"/>
<rect x="785.7" y="899.7" width="382.1" height="49.5" fill="#F3CEE3" />
<line x1="976.6" y1="899.7" x2="976.6" y2="949.2" stroke="#222" stroke-width="1.0"/>
<line x1="740.3" y1="903.0" x2="1167.8" y2="949.0" stroke="#222" stroke-width="1"/>
<line x1="740.3" y1="957.0" x2="1163.8" y2="903.0" stroke="#222" stroke-width="1"/>
<rect x="740.3" y="903.0" width="423.5" height="54.2" fill="none" stroke="#222" stroke-width="1.0"/>
<polyline points="706.6,899.7 706.6,936.7 761.2,949.4 1167.8,949.4" fill="none" stroke="#222" stroke-width="1.0"/>
<rect x="794.5" y="905.4" width="49.8" height="41.6" rx="4" fill="none" stroke="#222" stroke-width="1"/>
<rect x="799" y="909" width="41" height="33" rx="3" fill="none" stroke="#222" stroke-width="1"/>
<circle cx="815" cy="903" r="1.8" fill="none" stroke="#222" stroke-width="1"/>
<circle cx="823.5" cy="903" r="1.8" fill="none" stroke="#222" stroke-width="1"/>
<circle cx="819.5" cy="926" r="1.8" fill="none" stroke="#222" stroke-width="1"/>
<line x1="933.0" y1="932.0" x2="933.0" y2="914.7" stroke="#222" stroke-width="1.0"/>
<polygon points="933.0,899.7 936.3,914.7 929.7,914.7" fill="#000" stroke="none" stroke-width="1"/>
<polyline points="801.0,949.2 849.0,967.0 851.0,949.2" fill="none" stroke="#222" stroke-width="1"/>
<polyline points="910.0,949.2 912.0,967.0 963.0,949.2" fill="none" stroke="#222" stroke-width="1"/>
<polyline points="987.0,949.2 1023.0,960.0 1060.0,949.2" fill="none" stroke="#222" stroke-width="1"/>
<polyline points="1023.0,949.2 1023.0,960.0" fill="none" stroke="#222" stroke-width="1"/>
<polyline points="1083.0,949.2 1118.0,960.0 1155.0,949.2" fill="none" stroke="#222" stroke-width="1"/>
<polyline points="1120.0,949.2 1118.0,960.0" fill="none" stroke="#222" stroke-width="1"/>
<path d="M816,1007.1 L1064.4,1007.1 L1064.4,1123.8 L816,1123.8 A30.5,30.5 0 0 1 785.5,1093.3 L785.5,1037.6 A30.5,30.5 0 0 1 816,1007.1 Z" fill="#F3CEE3" stroke="#666" stroke-width="1"/>
<rect x="938.1" y="1023.4" width="42.3" height="42.3" fill="none" stroke="#222" stroke-width="1.0"/>
<circle cx="950.8" cy="1035.9" r="5.8" fill="none" stroke="#222" stroke-width="1"/>
<circle cx="950.8" cy="1035.9" r="1.8" fill="none" stroke="#222" stroke-width="1"/>
<circle cx="967.4" cy="1035.9" r="5.8" fill="none" stroke="#222" stroke-width="1"/>
<circle cx="967.4" cy="1035.9" r="1.8" fill="none" stroke="#222" stroke-width="1"/>
<circle cx="950.8" cy="1052.7" r="5.8" fill="none" stroke="#222" stroke-width="1"/>
<circle cx="950.8" cy="1052.7" r="1.8" fill="none" stroke="#222" stroke-width="1"/>
<circle cx="967.4" cy="1052.7" r="5.8" fill="none" stroke="#222" stroke-width="1"/>
<circle cx="967.4" cy="1052.7" r="1.8" fill="none" stroke="#222" stroke-width="1"/>
<line x1="1188.4" y1="949.4" x2="1188.4" y2="1149.0" stroke="#222" stroke-width="1.0"/>
<line x1="1192.2" y1="949.4" x2="1192.2" y2="1149.0" stroke="#222" stroke-width="1.0"/>
<line x1="1201.4" y1="949.4" x2="1201.4" y2="1149.0" stroke="#222" stroke-width="1.0"/>
<rect x="1188.4" y="1149.0" width="12.9" height="8.3" fill="#000" />
<rect x="1188.4" y="1219.1" width="12.9" height="8.6" fill="#000" />
<rect x="1126.6" y="1157.3" width="61.8" height="4.4" fill="none" stroke="#222" stroke-width="1.0"/>
<path d="M1126.6,1157.3 A61.8,61.8 0 0 0 1188.4,1219.1" fill="none" stroke="#222" stroke-width="1.0"/>
<rect x="1155.4" y="1251.6" width="24.9" height="46.6" fill="#000" />
<rect x="1168.1" y="1227.7" width="39.8" height="12.7" fill="#000" />
<rect x="1168.1" y="1227.7" width="12.2" height="24.3" fill="#000" />
<rect x="1180.3" y="1240.4" width="136.7" height="57.8" fill="#CDE9F2" />
<rect x="1207.9" y="1227.7" width="61.8" height="13.3" fill="#CDE9F2" />
<rect x="1317.0" y="1227.7" width="13.0" height="70.5" fill="#000" />
<rect x="1269.7" y="1227.7" width="60.3" height="12.7" fill="#000" />
<rect x="1207.9" y="1165.4" width="3.7" height="62.3" fill="none" stroke="#222" stroke-width="1.0"/>
<path d="M1207.9,1165.9 A61.8,61.8 0 0 1 1269.7,1227.7" fill="none" stroke="#222" stroke-width="1.0"/>
<path d="M1180.9,1251.7 A21,21 0 1 1 1180.9,1286.5" fill="none" stroke="#222" stroke-width="1"/>
<path d="M1190.5,1252.7 C1202,1252.7 1209.5,1259 1209.5,1269.3 C1209.5,1279.6 1202,1285.9 1190.5,1285.9 Q1188.4,1285.9 1188.4,1283.5 L1188.4,1255 Q1188.4,1252.7 1190.5,1252.7 Z" fill="none" stroke="#222" stroke-width="1"/>
<circle cx="1184.5" cy="1260.9" r="1.8" fill="none" stroke="#222" stroke-width="1"/>
<circle cx="1184.5" cy="1277.3" r="1.8" fill="none" stroke="#222" stroke-width="1"/>
<circle cx="1197" cy="1269" r="1.8" fill="none" stroke="#222" stroke-width="1"/>
<rect x="1280" y="1244.3" width="33.6" height="49.7" fill="none" stroke="#333" stroke-width="1" stroke-dasharray="6,4"/>
<path d="M1313,1262 L1306,1257 Q1297,1253.8 1289,1254.2 Q1276.3,1256 1276.3,1269 Q1276.3,1282 1289,1283.6 Q1297,1284.2 1306,1281 L1313,1276 Z" fill="none" stroke="#222" stroke-width="1"/>
<path d="M1310.5,1262.5 L1305,1259 Q1297,1256.5 1290,1257 Q1279.5,1258.5 1279.5,1269 Q1279.5,1279.5 1290,1281 Q1297,1281.5 1305,1279 L1310.5,1275.5 Z" fill="none" stroke="#222" stroke-width="1"/>
<line x1="1313.0" y1="1260.5" x2="1317.0" y2="1260.5" stroke="#222" stroke-width="1"/>
<line x1="1313.0" y1="1277.0" x2="1317.0" y2="1277.0" stroke="#222" stroke-width="1"/>
<line x1="1313.5" y1="1257.0" x2="1313.5" y2="1281.0" stroke="#222" stroke-width="1"/>
<rect x="880.8" y="1252.0" width="4.8" height="46.5" fill="#000" />
<rect x="874.8" y="1248.4" width="17.4" height="4.2" fill="#000" />
<rect x="980.9" y="1252.0" width="4.8" height="46.5" fill="#000" />
<rect x="974.3" y="1248.4" width="15.1" height="4.2" fill="#000" />
<rect x="1038.8" y="1252.0" width="4.8" height="46.5" fill="#000" />
<rect x="1035.3" y="1248.4" width="12.2" height="4.2" fill="#000" />
<rect x="1096.9" y="1252.0" width="4.8" height="46.5" fill="#000" />
<rect x="1093.2" y="1248.4" width="12.2" height="4.2" fill="#000" />
<rect x="1151.0" y="1248.4" width="17.0" height="4.2" fill="#000" />
<line x1="706.6" y1="1273.0" x2="760.6" y2="1256.9" stroke="#222" stroke-width="1.0"/>
<polyline points="792.1,1248.4 832.7,1235.8 874.8,1248.4" fill="none" stroke="#222" stroke-width="1.0"/>
<line x1="832.7" y1="1235.8" x2="832.7" y2="1244.0" stroke="#222" stroke-width="1"/>
<polyline points="892.2,1248.4 932.0,1236.2 974.3,1248.4" fill="none" stroke="#222" stroke-width="1.0"/>
<line x1="932.0" y1="1236.2" x2="932.0" y2="1244.0" stroke="#222" stroke-width="1"/>
<polyline points="989.4,1248.4 1033.8,1236.2 1035.3,1248.4" fill="none" stroke="#222" stroke-width="1.0"/>
<polyline points="1047.5,1248.4 1048.5,1236.2 1093.2,1248.4" fill="none" stroke="#222" stroke-width="1.0"/>
<polyline points="1105.4,1248.4 1107.0,1236.2 1151.0,1248.4" fill="none" stroke="#222" stroke-width="1.0"/>
<line x1="932.8" y1="1265.5" x2="932.8" y2="1283.0" stroke="#222" stroke-width="1.0"/>
<polygon points="932.8,1298.0 929.5,1283.0 936.1,1283.0" fill="#000" stroke="none" stroke-width="1"/>
<line x1="1201.4" y1="1136.1" x2="1330.0" y2="1136.1" stroke="#222" stroke-width="1.0"/>
<line x1="1201.4" y1="1148.9" x2="1330.0" y2="1148.9" stroke="#222" stroke-width="1.0"/>
<line x1="1330.0" y1="1136.1" x2="1330.0" y2="1227.7" stroke="#222" stroke-width="1.0"/>
<line x1="1288.5" y1="1148.9" x2="1288.5" y2="1227.7" stroke="#222" stroke-width="1.0"/>
<line x1="1309.5" y1="1148.9" x2="1309.5" y2="1227.7" stroke="#222" stroke-width="1.0"/>
<line x1="1288.5" y1="1188.1" x2="1316.0" y2="1188.1" stroke="#222" stroke-width="1.0"/>
<polygon points="1330.0,1188.1 1316.0,1191.4 1316.0,1184.8" fill="#000" stroke="none" stroke-width="1"/>
<line x1="1330.0" y1="1227.7" x2="1409.1" y2="1227.7" stroke="#222" stroke-width="1.0"/>
<line x1="1330.0" y1="1232.0" x2="1409.1" y2="1232.0" stroke="#222" stroke-width="1.0"/>
<line x1="1346.6" y1="1232.0" x2="1346.6" y2="1298.2" stroke="#222" stroke-width="1.0"/>
<line x1="1367.7" y1="1232.0" x2="1367.7" y2="1298.2" stroke="#222" stroke-width="1.0"/>
<line x1="1388.6" y1="1232.0" x2="1388.6" y2="1298.2" stroke="#222" stroke-width="1.0"/>
<line x1="1409.1" y1="1232.0" x2="1409.1" y2="1298.2" stroke="#222" stroke-width="1.0"/>
<line x1="1409.1" y1="1227.7" x2="1409.1" y2="1232.0" stroke="#222" stroke-width="1.0"/>
<line x1="1330.0" y1="1298.0" x2="1346.6" y2="1232.0" stroke="#222" stroke-width="1.0"/>
<line x1="1409.1" y1="1265.5" x2="1360.6" y2="1265.5" stroke="#222" stroke-width="1.0"/>
<polygon points="1346.6,1265.5 1360.6,1262.2 1360.6,1268.8" fill="#000" stroke="none" stroke-width="1"/>
<text x="1413.1" y="1273.8" font-size="23.97" text-anchor="start" font-weight="normal" fill="#111">Up</text>
<rect x="1791.5" y="1221.0" width="8.5" height="4.2" fill="none" stroke="#222" stroke-width="1"/>
<path d="M1791.5,1224.0 A66.5,66.5 0 0 0 1725.0,1290.5" fill="none" stroke="#222" stroke-width="1.0"/>
<rect x="1724.3" y="1288.0" width="67.2" height="4.4" fill="none" stroke="#222" stroke-width="1"/>
<rect x="1791.5" y="1292.0" width="8.5" height="4.0" fill="none" stroke="#222" stroke-width="1"/>
<path d="M1814.7,1255.5 L1800,1255.5 L1806,1248.5 L1803,1246.5 L1791.5,1259.3 L1803,1272.1 L1806,1270 L1800,1263 L1814.7,1263 Z" fill="none" stroke="#CFCFB8" stroke-width="1"/>
<text x="1817.3" y="1268.5" font-size="32.48" text-anchor="start" font-weight="normal" fill="#000">IN</text>
<rect x="420.0" y="924.2" width="66.7" height="4.7" fill="none" stroke="#222" stroke-width="1"/>
<rect x="486.7" y="920.5" width="8.3" height="4.0" fill="none" stroke="#222" stroke-width="1"/>
<path d="M420.7,926.0 A66.0,66.0 0 0 0 486.7,992.0" fill="none" stroke="#222" stroke-width="1.0"/>
<rect x="486.7" y="988.5" width="8.3" height="3.9" fill="none" stroke="#222" stroke-width="1"/>
<polyline points="490.0,1250.0 444.4,1219.5 487.7,1189.5 444.4,1159.6 487.7,1129.6 444.4,1104.6" fill="none" stroke="#222" stroke-width="1.0"/>
<polyline points="493.0,1254.0 441.4,1223.5 490.7,1193.5 441.4,1163.6 490.7,1133.6 441.4,1108.6" fill="none" stroke="#222" stroke-width="1.0"/>
<rect x="486.0" y="1250.0" width="9.0" height="3.0" fill="none" stroke="#222" stroke-width="1"/>
<line x1="498.3" y1="1158.0" x2="498.3" y2="1149.3" stroke="#222" stroke-width="1.0"/>
<polygon points="498.3,1136.3 501.6,1149.3 495.0,1149.3" fill="#000" stroke="none" stroke-width="1"/>
<line x1="498.3" y1="1158.0" x2="498.3" y2="1165.9" stroke="#222" stroke-width="1.0"/>
<polygon points="498.3,1178.9 495.0,1165.9 501.6,1165.9" fill="#000" stroke="none" stroke-width="1"/>
<line x1="326.2" y1="878.3" x2="326.2" y2="860.5" stroke="#222" stroke-width="1.0"/>
<polygon points="326.2,845.5 329.5,860.5 322.9,860.5" fill="#000" stroke="none" stroke-width="1"/>
<line x1="326.2" y1="1291.0" x2="326.2" y2="1308.0" stroke="#222" stroke-width="1.0"/>
<polygon points="326.2,1323.0 322.9,1308.0 329.5,1308.0" fill="#000" stroke="none" stroke-width="1"/>
<line x1="37.6" y1="1023.0" x2="19.5" y2="1023.0" stroke="#222" stroke-width="1.0"/>
<polygon points="4.5,1023.0 19.5,1019.7 19.5,1026.3" fill="#000" stroke="none" stroke-width="1"/>
<line x1="449.4" y1="1023.0" x2="467.0" y2="1023.0" stroke="#222" stroke-width="1.0"/>
<polygon points="482.0,1023.0 467.0,1026.3 467.0,1019.7" fill="#000" stroke="none" stroke-width="1"/>
<line x1="482.0" y1="1017.0" x2="482.0" y2="1029.0" stroke="#222" stroke-width="1"/>
<line x1="540.0" y1="1023.6" x2="523.0" y2="1023.6" stroke="#222" stroke-width="1.0"/>
<polygon points="508.0,1023.6 523.0,1020.3 523.0,1026.9" fill="#000" stroke="none" stroke-width="1"/>
<line x1="508.0" y1="1017.0" x2="508.0" y2="1029.0" stroke="#222" stroke-width="1"/>
<line x1="1155.0" y1="1023.6" x2="1173.3" y2="1023.6" stroke="#222" stroke-width="1.0"/>
<polygon points="1188.3,1023.6 1173.3,1026.9 1173.3,1020.3" fill="#000" stroke="none" stroke-width="1"/>
<line x1="1234.6" y1="1023.6" x2="1216.4" y2="1023.6" stroke="#222" stroke-width="1.0"/>
<polygon points="1201.4,1023.6 1216.4,1020.3 1216.4,1026.9" fill="#000" stroke="none" stroke-width="1"/>
<line x1="1545.7" y1="903.5" x2="1545.7" y2="885.7" stroke="#222" stroke-width="1.0"/>
<polygon points="1545.7,870.7 1549.0,885.7 1542.4,885.7" fill="#000" stroke="none" stroke-width="1"/>
<line x1="1546.0" y1="1265.0" x2="1546.0" y2="1283.2" stroke="#222" stroke-width="1.0"/>
<polygon points="1546.0,1298.2 1542.7,1283.2 1549.3,1283.2" fill="#000" stroke="none" stroke-width="1"/>
<line x1="1874.5" y1="1023.8" x2="1892.4" y2="1023.8" stroke="#222" stroke-width="1.0"/>
<polygon points="1907.4,1023.8 1892.4,1027.1 1892.4,1020.5" fill="#000" stroke="none" stroke-width="1"/>
<text x="243.0" y="1048.0" font-size="23.4" text-anchor="middle" font-weight="normal" fill="#111">Garden</text>
<text x="243.0" y="1075.7" font-size="23.4" text-anchor="middle" font-weight="normal" fill="#111">5.76 x 5.18</text>
<text x="243.0" y="1103.6" font-size="23.4" text-anchor="middle" font-weight="normal" fill="#111">18'11 x 17'0</text>
<text x="243.0" y="1131.3" font-size="23.4" text-anchor="middle" font-weight="normal" fill="#111">(Approx)</text>
<text x="695.2" y="1040.0" font-size="23.4" text-anchor="middle" font-weight="normal" fill="#111">Kitchen /</text>
<text x="695.2" y="1067.6" font-size="23.4" text-anchor="middle" font-weight="normal" fill="#111">Dining Room</text>
<text x="695.2" y="1095.0" font-size="23.4" text-anchor="middle" font-weight="normal" fill="#111">8.18 x 4.65</text>
<text x="695.2" y="1123.0" font-size="23.4" text-anchor="middle" font-weight="normal" fill="#111">26'10 x 15'3</text>
<text x="695.2" y="1146.0" font-size="17.7" text-anchor="middle" font-weight="normal" fill="#111">(CH = 2.40)</text>
<text x="1572.5" y="1051.5" font-size="23.4" text-anchor="middle" font-weight="normal" fill="#111">Reception Room</text>
<text x="1572.5" y="1078.5" font-size="23.4" text-anchor="middle" font-weight="normal" fill="#111">8.48 x 5.10</text>
<text x="1572.5" y="1106.0" font-size="23.4" text-anchor="middle" font-weight="normal" fill="#111">27'10 x 16'9</text>
<text x="1572.5" y="1131.0" font-size="17.7" text-anchor="middle" font-weight="normal" fill="#111">(CH = 2.70)</text>
<text x="1050.6" y="1369.4" font-size="40.69" text-anchor="start" font-weight="bold" fill="#000">Ground Floor</text>
<text x="918.7" y="1409.0" font-size="29.07" text-anchor="start" font-weight="normal" fill="#000">Approximate Area = 79.2 sq m / 852 sq ft</text>
<text x="885.3" y="1446.6" font-size="29.18" text-anchor="start" font-weight="normal" fill="#000">Including Limited Use Area (0.3 sq m / 3 sq ft)</text>
<text x="161.9" y="1494.6" font-size="26.02" text-anchor="start" font-weight="normal" fill="#000">Surveyed and drawn in accordance with the International property measurements standards (IPMS 2: Residential) Not drawn to scale unless stated.</text>
<text x="65.3" y="1525.6" font-size="26.01" text-anchor="start" font-weight="normal" fill="#000">Whilst every care is taken in the preparation of this plan, please check all dimensions, shapes and compass bearings before making any decisions reliant upon them.</text>
</svg>
</body></html>
